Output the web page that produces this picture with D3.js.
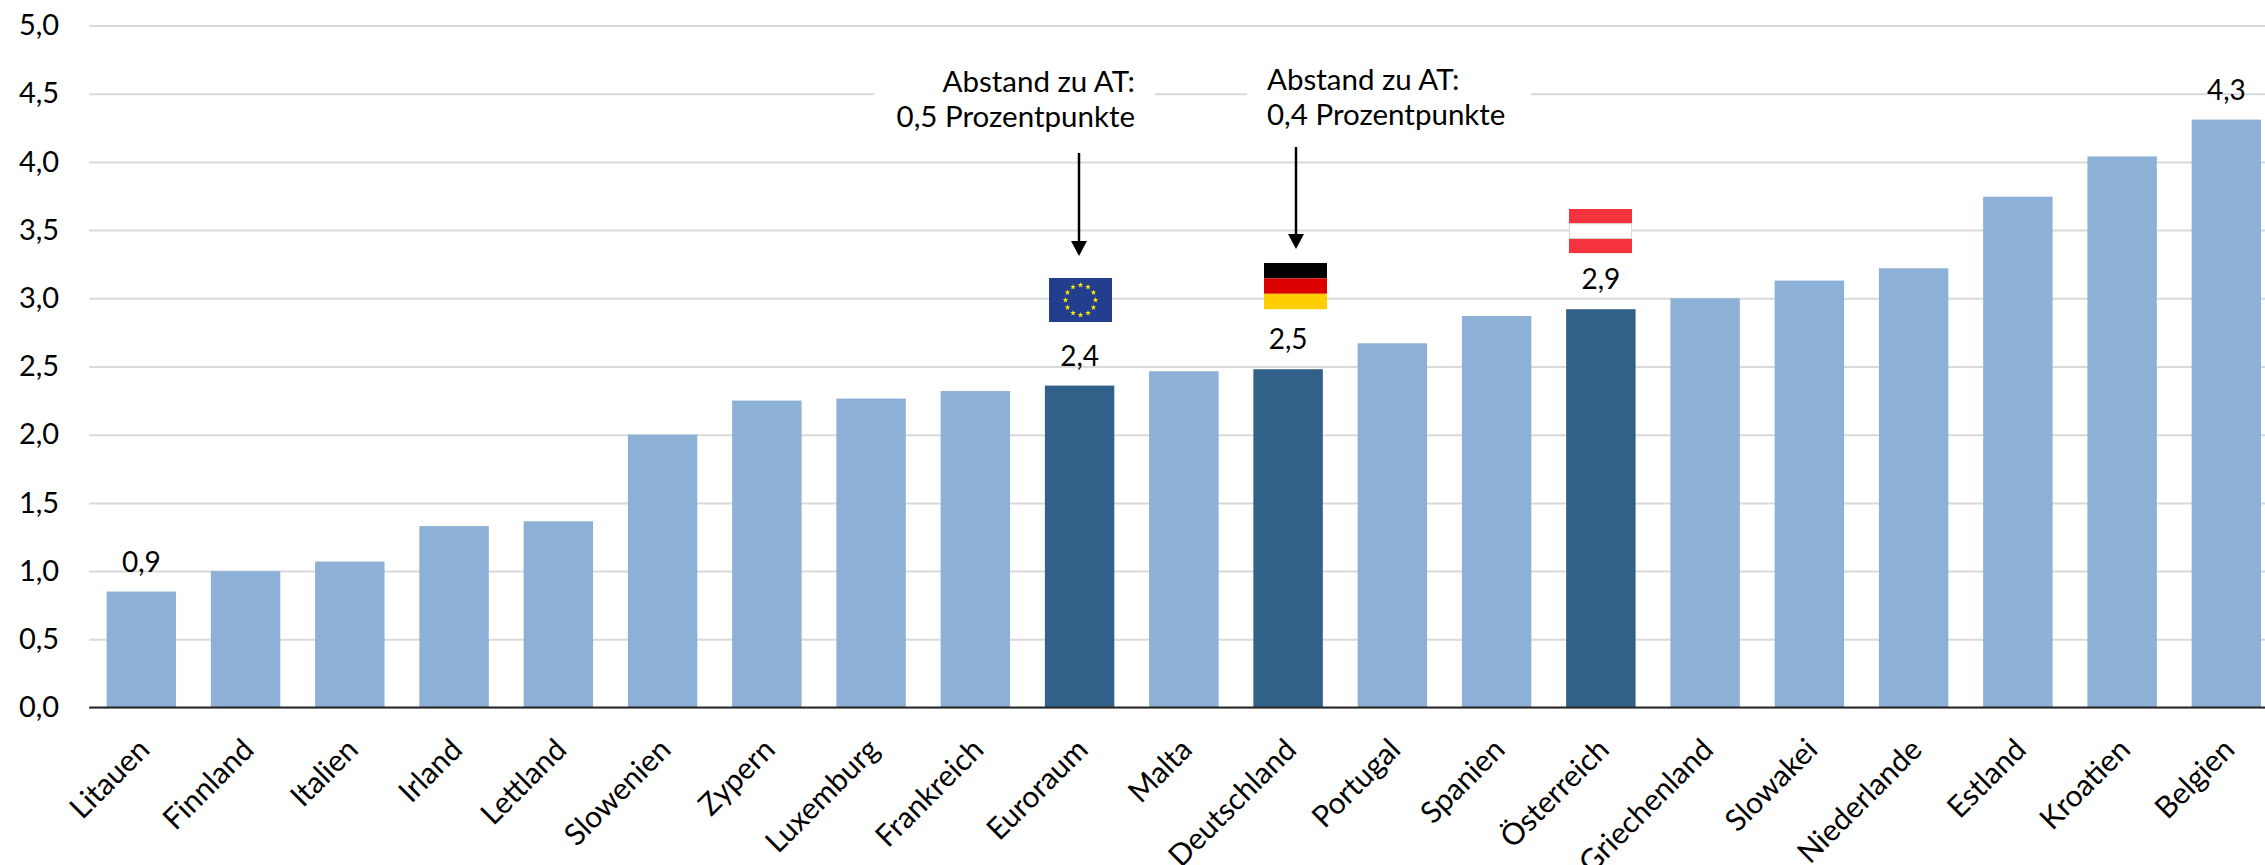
<!DOCTYPE html>
<html>
<head>
<meta charset="utf-8">
<script src="https://cdn.jsdelivr.net/npm/d3@7"></script>
<style>
  body { margin: 0; background: #fff; overflow: hidden; }
  text { font-family: Lato, sans-serif; fill: #000; }
  .grid line { stroke: #d9d9d9; stroke-width: 2; }
  .grid path { display: none; }
  .x-axis path { display: none; }
  .x-axis line { display: none; }
</style>
</head>
<body>
<div id="chart"></div>
<script>
// values
const countries = ["Litauen", "Finnland", "Italien", "Irland", "Lettland", "Slowenien", "Zypern",
  "Luxemburg", "Frankreich", "Euroraum", "Malta", "Deutschland", "Portugal", "Spanien",
  "Österreich", "Griechenland", "Slowakei", "Niederlande", "Estland", "Kroatien", "Belgien"];
const rates = [0.85, 1.0, 1.07, 1.33, 1.365, 2.0, 2.25, 2.265, 2.32, 2.36, 2.465, 2.48, 2.67, 2.87,
  2.92, 3.0, 3.13, 3.22, 3.745, 4.04, 4.31];
const highlighted = ["Euroraum", "Deutschland", "Österreich"];
const labelled = ["Litauen", "Euroraum", "Deutschland", "Österreich", "Belgien"];
const labelTexts = ["0,9", "2,4", "2,5", "2,9", "4,3"];
const yTicks = [0, 0.5, 1, 1.5, 2, 2.5, 3, 3.5, 4, 4.5, 5];
const noteFirstLine = "Abstand zu AT:";
const noteEuro = "0,5 Prozentpunkte";
const noteGermany = "0,4 Prozentpunkte";

const width = 2265, height = 865;
const comma = d => d.toFixed(1).replace(".", ",");

const svg = d3.select("#chart").append("svg")
    .attr("width", width)
    .attr("height", height)
    .style("display", "block");

// the plot runs a little past the right edge of the picture
const xScale = d3.scaleBand()
    .domain(countries)
    .range([89.2, 2278.5])
    .paddingInner(0.334)
    .paddingOuter(0.167);

const yScale = d3.scaleLinear()
    .domain([0, 5])
    .range([707.5, 25.5]);

const centre = c => xScale(c) + xScale.bandwidth() / 2;
const valueOf = c => rates[countries.indexOf(c)];

// gridlines and y labels
svg.append("g")
    .attr("class", "grid")
    .attr("transform", "translate(89.2,0)")
    .call(d3.axisLeft(yScale).tickValues(yTicks).tickSize(-2190).tickPadding(30).tickFormat(comma))
    .call(g => g.selectAll("text").attr("font-size", 29).style("font-family", "Lato, sans-serif"));

// white boxes behind the notes cut the 4,5 gridline
svg.append("rect").attr("x", 874).attr("y", 70).attr("width", 281).attr("height", 70).attr("fill", "#fff");
svg.append("rect").attr("x", 1247).attr("y", 70).attr("width", 284).attr("height", 70).attr("fill", "#fff");

// bars
svg.selectAll(".bar")
    .data(countries)
    .join("rect")
    .attr("class", "bar")
    .attr("x", d => xScale(d))
    .attr("y", d => yScale(valueOf(d)))
    .attr("width", xScale.bandwidth())
    .attr("height", d => yScale(0) - yScale(valueOf(d)))
    .attr("fill", d => highlighted.includes(d) ? "#316089" : "#8cb0d6");

// baseline
svg.append("line")
    .attr("x1", 89.2).attr("x2", width)
    .attr("y1", yScale(0)).attr("y2", yScale(0))
    .attr("stroke", "#262626")
    .attr("stroke-width", 2);

// category labels
const xAxis = svg.append("g")
    .attr("class", "x-axis")
    .attr("transform", "translate(0," + yScale(0) + ")")
    .call(d3.axisBottom(xScale).tickSize(0).tickPadding(0));

xAxis.selectAll("text")
    .attr("font-size", 30)
    .style("font-family", "Lato, sans-serif")
    .attr("text-anchor", "end")
    .attr("dy", 0)
    .attr("transform", "translate(10,44) rotate(-45)");

// data labels
svg.selectAll(".value")
    .data(labelled)
    .join("text")
    .attr("class", "value")
    .attr("x", d => centre(d))
    .attr("y", d => yScale(valueOf(d)) - 20)
    .attr("text-anchor", "middle")
    .attr("font-size", 28)
    .text((d, i) => labelTexts[i]);

// flags
function stripes(left, top, colors, stripeH) {
  colors.forEach((c, i) => {
    svg.append("rect")
        .attr("x", left)
        .attr("y", top + i * stripeH)
        .attr("width", 63)
        .attr("height", stripeH)
        .attr("fill", c);
  });
}
stripes(1264, 263, ["#000000", "#dd0000", "#ffce00"], 15.4);
stripes(1569, 209, ["#f5333f", "#ffffff", "#f5333f"], 14.7);
// the white stripe has a faint edge in the picture
svg.append("rect")
    .attr("x", 1569.5).attr("y", 223.7)
    .attr("width", 62).attr("height", 14.7)
    .attr("fill", "none")
    .attr("stroke", "#d8d8d8")
    .attr("stroke-width", 1);

const euroX = 1080.5;
svg.append("rect")
    .attr("x", euroX - 31.5).attr("y", 278)
    .attr("width", 63).attr("height", 44)
    .attr("fill", "#243e8f");
const star = d3.symbol().type(d3.symbolStar).size(10);
d3.range(12).forEach(i => {
  const a = i * Math.PI / 6;
  svg.append("path")
      .attr("d", star)
      .attr("fill", "#ffed00")
      .attr("transform", "translate(" + (euroX + 15 * Math.sin(a)) + "," + (300 - 15 * Math.cos(a)) + ")");
});

// notes
function note(x, y, anchor, second) {
  const t = svg.append("text").attr("font-size", 29.5).attr("text-anchor", anchor);
  t.append("tspan").attr("x", x).attr("y", y).text(noteFirstLine);
  t.append("tspan").attr("x", x).attr("y", y + 35).text(second);
}
note(1135, 92, "end", noteEuro);
note(1267, 90, "start", noteGermany);

// arrows
function arrow(x, y1, y2) {
  svg.append("line")
      .attr("x1", x).attr("x2", x)
      .attr("y1", y1).attr("y2", y2 - 10)
      .attr("stroke", "#000")
      .attr("stroke-width", 2.5);
  svg.append("path")
      .attr("d", d3.line()([[x - 8, y2 - 15], [x + 8, y2 - 15], [x, y2]]) + "Z")
      .attr("fill", "#000");
}
arrow(1079, 153, 256);
arrow(1296, 147, 249);
</script>
</body>
</html>
